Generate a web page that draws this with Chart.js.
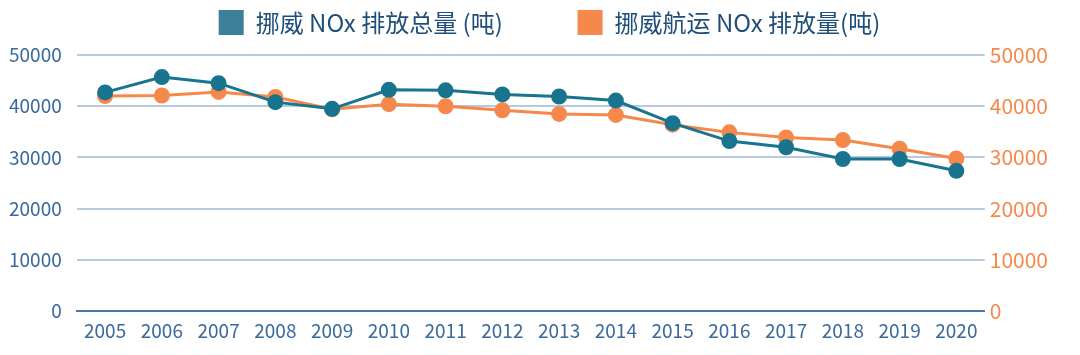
<!DOCTYPE html>
<html><head><meta charset="utf-8">
<script src="https://cdn.jsdelivr.net/npm/chart.js@4/dist/chart.umd.min.js"></script>
<style>html,body{margin:0;padding:0;background:#fff;}#wrap{width:1080px;height:355px;}</style>
</head><body><div id="wrap"><canvas id="c" width="1080" height="355"></canvas></div>
<script>
const years = ['2005','2006','2007','2008','2009','2010','2011','2012','2013','2014','2015','2016','2017','2018','2019','2020'];
const totalNOx = [42700,45700,44500,40800,39500,43200,43100,42300,41900,41100,36700,33200,32000,29700,29700,27400];
const shippingNOx = [42000,42100,42800,41800,39400,40400,40000,39200,38500,38300,36400,34900,33900,33400,31700,29800];
const label1 = '挪威 NOx 排放总量 (吨)';
const label2 = '挪威航运 NOx 排放量(吨)';
const font = "'Noto Sans CJK SC','Noto Sans',sans-serif";
const chart = new Chart(document.getElementById('c'), {
  type: 'line',
  data: {
    labels: years,
    datasets: [
      {label: label1, data: totalNOx, yAxisID: 'y', borderColor: '#18748f', backgroundColor: '#3b7f99',
       pointBackgroundColor: '#18748f', pointBorderColor: '#18748f', borderWidth: 3, pointRadius: 6.5, order: 1},
      {label: label2, data: shippingNOx, yAxisID: 'y1', borderColor: '#f5884a', backgroundColor: '#f5884a',
       pointBackgroundColor: '#f5884a', pointBorderColor: '#f5884a', borderWidth: 3, pointRadius: 6.5, order: 2}
    ]
  },
  options: {
    responsive: false, animation: false,
    layout: {padding: {left: -6, right: 27, top: 0, bottom: 5}},
    plugins: {
      tooltip: {enabled: false},
      legend: {position: 'top', align: 'center',
        labels: {boxWidth: 25, boxHeight: 25, padding: 10, color: '#1f4e79',
          font: {family: font, size: 24},
          generateLabels(chart){
            return chart.data.datasets.map((d,i)=>({text: d.label + (i === 0 ? '\u2003\u2003\u2002\u2009' : ''), fillStyle: d.backgroundColor, strokeStyle: d.backgroundColor, lineWidth: 0, datasetIndex: i, fontColor: '#1f4e79'}));
          }}}
    },
    scales: {
      x: {offset: true, grid: {display: false, drawTicks: false},
          border: {display: true, color: '#4d78a6', width: 2},
          ticks: {color: '#3b6a9c', font: {family: font, size: 19}, padding: 8, maxRotation: 0}},
      y: {position: 'left', min: 0, max: 50000, ticks: {stepSize: 10000, color: '#3b6a9c', font: {family: font, size: 19}, padding: 15, callback: v => String(v)},
          grid: {color: '#b7cadd', lineWidth: 2, drawTicks: false}, border: {display: false}},
      y1: {position: 'right', min: 0, max: 50000, ticks: {stepSize: 10000, color: '#f5884a', font: {family: font, size: 21}, padding: 5, callback: v => String(v)},
          grid: {display: false, drawTicks: false}, border: {display: false}}
    }
  }
});
const lg = chart.legend;
const origFit = lg.fit.bind(lg);
lg.fit = function(){ origFit(); this.height += 10; };
const origDraw = lg.draw.bind(lg);
lg.draw = function(){ const ctx = this.ctx; ctx.save(); ctx.translate(26, 0); origDraw(); ctx.restore(); };
chart.update();
</script></body></html>
